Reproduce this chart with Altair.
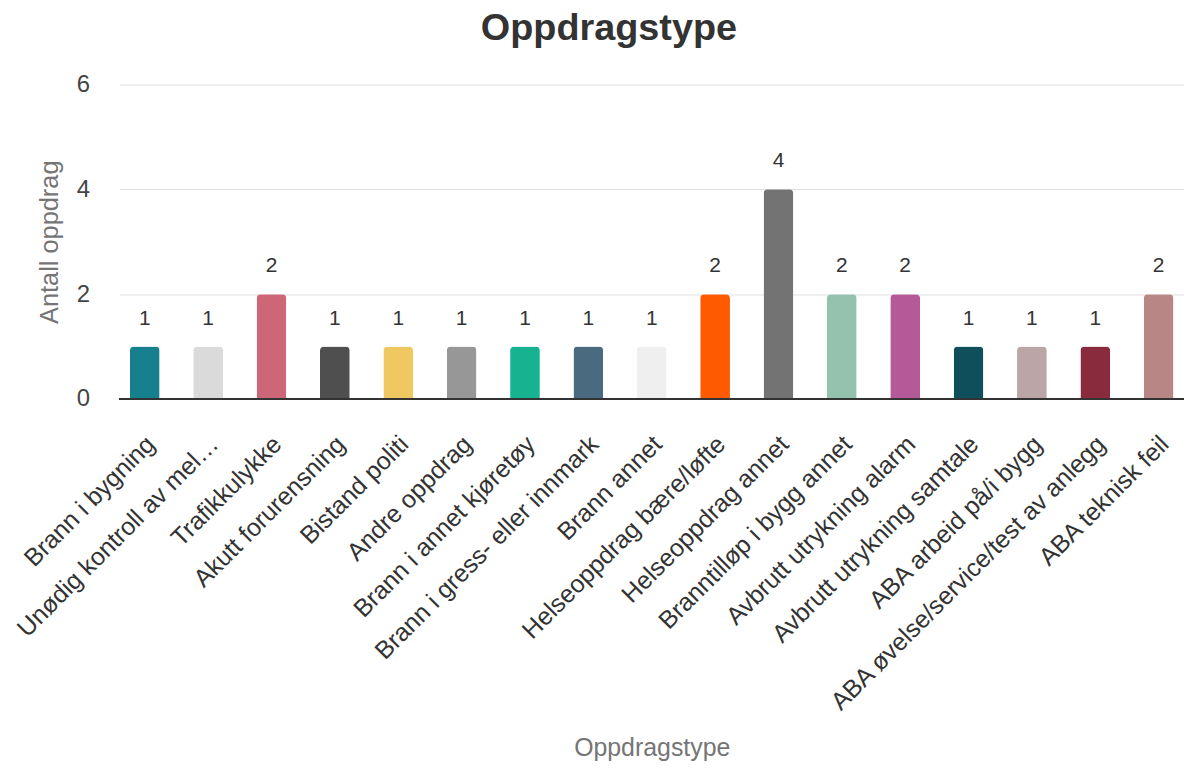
import altair as alt
import pandas as pd

categories = [
    "Brann i bygning", "Unødig kontroll av mel…", "Trafikkulykke", "Akutt forurensning",
    "Bistand politi", "Andre oppdrag", "Brann i annet kjøretøy", "Brann i gress- eller innmark",
    "Brann annet", "Helseoppdrag bære/løfte", "Helseoppdrag annet", "Branntilløp i bygg annet",
    "Avbrutt utrykning alarm", "Avbrutt utrykning samtale", "ABA arbeid på/i bygg",
    "ABA øvelse/service/test av anlegg", "ABA teknisk feil",
]
values = [1, 1, 2, 1, 1, 1, 1, 1, 1, 2, 4, 2, 2, 1, 1, 1, 2]
colors = [
    "#16808f", "#dadada", "#cd6778", "#4f4f4f", "#f0c862", "#979797", "#17b390", "#4a6a80",
    "#efefef", "#fe5a02", "#737373", "#93c3ae", "#b55a98", "#0f4f5b", "#bba5a6", "#8a2a3d",
    "#b98686",
]

df = pd.DataFrame({"type": categories, "antall": values})
FONT = "Arial, Liberation Sans, sans-serif"

x = alt.X(
    "type:N", sort=categories,
    scale=alt.Scale(paddingInner=0.53, paddingOuter=0.165),
    axis=alt.Axis(
        title="Oppdragstype", labelAngle=-45, labelAlign="right", labelBaseline="middle",
        labelFontSize=25, labelColor="#333333", labelFont=FONT, labelLimit=600,
        labelPadding=41, labelOffset=6, ticks=False, domain=False,
        titleFontSize=25, titleColor="#757575", titleFont=FONT, titleFontWeight="normal",
        titleY=338,
    ),
)
y = alt.Y(
    "antall:Q",
    scale=alt.Scale(domain=[0, 6]),
    axis=alt.Axis(
        title="Antall oppdrag", values=[0, 2, 4, 6], labelFontSize=24, labelColor="#444444",
        labelFont=FONT, labelPadding=30, ticks=False, domain=False, gridColor="#e0e0e0",
        titleFontSize=25.5, titleColor="#757575", titleFont=FONT, titleFontWeight="normal",
        titleX=-57,
    ),
)

bars = alt.Chart(df).mark_bar(cornerRadiusTopLeft=4, cornerRadiusTopRight=4).encode(
    x=x, y=y,
    color=alt.Color("type:N", sort=categories,
                    scale=alt.Scale(domain=categories, range=colors), legend=None),
)
labels = alt.Chart(df).mark_text(dy=-28, fontSize=21, color="#333333", font=FONT).encode(
    x=alt.X("type:N", sort=categories), y="antall:Q", text="antall:Q"
)
zero = alt.Chart(df).mark_rule(color="#333333", strokeWidth=2).encode(
    y=alt.datum(0)
)

chart = alt.layer(bars, labels, zero).properties(
    width=1070, height=316,
    title=alt.Title("Oppdragstype", fontSize=38, font=FONT, fontWeight="bold",
                    color="#333333", anchor="middle", dx=-43, offset=25),
    autosize=alt.AutoSizeParams(type="none"),
    padding={"left": 112, "top": 75, "right": 0, "bottom": 369},
).configure_view(stroke=None)

chart.save("out.html", embed_options={"renderer": "svg", "actions": False})
